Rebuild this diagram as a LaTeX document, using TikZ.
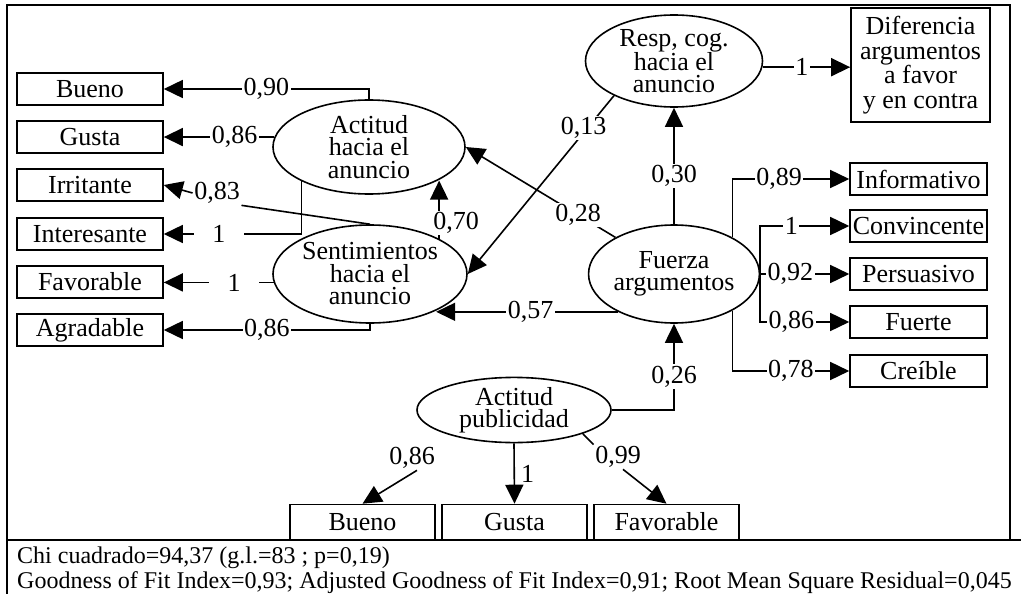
\documentclass[tikz,border=0pt]{standalone}
\usepackage{fontspec}
\setmainfont{Liberation Serif}
\usetikzlibrary{arrows.meta,shapes.geometric,calc}
\newcommand{\labfont}{\fontsize{26}{22.5}\selectfont}
\newcommand{\footfont}{\fontsize{24}{26}\selectfont}
\begin{document}
\begin{tikzpicture}[x=1pt,y=-1pt,
  ln/.style={line width=1.6pt},
  arr/.style={ln,-{Triangle[length=19pt,width=18pt]}},
  box/.style={draw,line width=1.6pt,inner sep=0pt,font=\labfont},
  lbox/.style={box,minimum width=146pt,minimum height=32pt},
  rbox/.style={box,minimum width=137pt,minimum height=32pt},
  bbox/.style={box,minimum width=145pt,minimum height=35pt},
  lat/.style={draw,ellipse,line width=1.6pt,inner sep=0pt,align=center,font=\labfont},
  lab/.style={fill=white,inner sep=1.5pt,font=\labfont},
]
\useasboundingbox (0,0) rectangle (1021,594);
% frame
\draw[line width=1.4pt] (7,600) -- (7,5) -- (1010,5) -- (1010,540);
\draw[line width=1.4pt] (7,540) -- (1021,540);
% left boxes
\node[lbox] (b1) at (90,89) {Bueno};
\node[lbox] (b2) at (90,137) {Gusta};
\node[lbox] (b3) at (90,185) {Irritante};
\node[lbox] (b4) at (90,234) {Interesante};
\node[lbox] (b5) at (90,282) {Favorable};
\node[lbox] (b6) at (90,330) {Agradable};
% right boxes
\node[rbox] (r1) at (918.5,179) {Informativo};
\node[rbox] (r2) at (918.5,226) {Convincente};
\node[rbox] (r3) at (918.5,274) {Persuasivo};
\node[rbox] (r4) at (918.5,322) {Fuerte};
\node[rbox] (r5) at (918.5,371) {Creíble};
\node[box,minimum width=139pt,minimum height=114pt,align=center,font=\fontsize{26}{24.5}\selectfont] (dif) at (920.5,65) {Diferencia\\argumentos\\a favor\\y en contra};
% bottom boxes
\node[bbox] (bb) at (362.5,522) {Bueno};
\node[bbox] (bg) at (514.5,522) {Gusta};
\node[bbox] (bf) at (666.5,522) {Favorable};
% latent variables
\node[lat,minimum width=192pt,minimum height=94pt] (act) at (369,147) {Actitud\\hacia el\\anuncio};
\node[lat,minimum width=194pt,minimum height=98pt] (sent) at (370,274) {Sentimientos\\hacia el\\anuncio};
\node[lat,minimum width=177pt,minimum height=92pt,font=\fontsize{26}{22}\selectfont] (resp) at (674,61) {Resp, cog.\\hacia el\\anuncio};
\node[lat,minimum width=158pt,minimum height=98pt] (fuerza) at (674,274) {Fuerza\\argumentos};
\node[lat,minimum width=194pt,minimum height=64pt] (ap) at (514,410) {Actitud\\publicidad};
% connectors left
\draw[arr] (act.north) |- node[lab,pos=0.75]{0,90} (b1.east);
\draw[arr] (act.174) -- node[lab,pos=0.36]{0,86} (act.174 -| b2.east);
\node[lab,fill=none] (l083) at (217,193) {0,83};
\draw[ln] (sent.north) -- (l083.south east);
\draw[arr] (l083.west) -- (b3.east);
\draw[arr] (act.207) |- node[lab,pos=0.8,minimum width=50pt]{1} (b4.east);
\draw[arr] (sent.185) -- node[lab,pos=0.36,minimum width=50pt]{1} (sent.185 -| b5.east);
\draw[arr] (sent.south) |- node[lab,pos=0.75]{0,86} (b6.east);
% structural paths
\draw[arr] (sent.27) -- node[lab,pos=0.27,xshift=17pt]{0,70} (sent.27 |- act.-26);
\draw[arr] (fuerza.148) -- node[lab,pos=0.25]{0,28} (act.east);
\draw[arr] (fuerza.north) -- node[lab,pos=0.415]{0,30} (resp.south);
\draw[arr] (resp.210) -- node[lab,pos=0.18,xshift=-4pt]{0,13} (sent.east);
\draw[arr] (fuerza.214) -- node[lab,pos=0.48]{0,57} (fuerza.214 -| sent.-29);
\draw[arr] (ap.east) -| node[lab,pos=0.695]{0,26} (fuerza.south);
\draw[arr] (resp.-4.5) -- node[lab,pos=0.45]{1} (resp.-4.5 -| dif.west);
% right indicators
\draw[arr] (fuerza.32) |- node[lab,pos=0.70]{0,89} (r1.west);
\draw[arr] (fuerza.east) |- node[lab,pos=0.675]{1} (r2.west);
\draw[arr] (fuerza.east) -- node[lab,pos=0.34]{0,92} (r3.west);
\draw[arr] (fuerza.east) |- node[lab,pos=0.675]{0,86} (r4.west);
\draw[arr] (fuerza.-32) |- node[lab,pos=0.75]{0,78} (r5.west);
% bottom indicators
\node[lab,fill=none] (l086b) at (412,458) {0,86};
\draw[arr] ([xshift=5pt]l086b.south) -- (bb.north);
\draw[arr] (ap.south) -- node[pos=0.5,anchor=west,inner sep=6pt,font=\labfont]{1} (bg.north);
\node[lab,fill=none] (l099) at (618,457) {0,99};
\draw[ln] (ap.-19) -- (l099.north west);
\draw[arr] ([xshift=5pt]l099.south) -- (bf.north);
% footer
\node[anchor=base west,inner sep=0pt,font=\footfont] (f1) at (17,563) {Chi cuadrado=94,37 (g.l.=83 ; p=0,19)};
\node[anchor=base west,inner sep=0pt,font=\footfont] (f2) at (17,588) {Goodness of Fit Index=0,93; Adjusted Goodness of Fit Index=0,91; Root Mean Square Residual=0,045};
\end{tikzpicture}
\end{document}
